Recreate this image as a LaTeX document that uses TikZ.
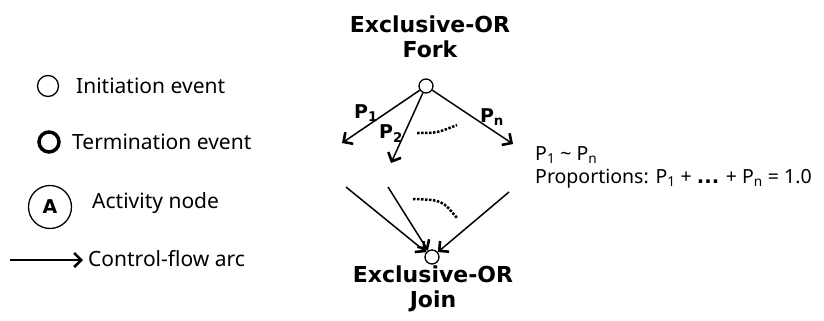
\documentclass[tikz,border=0pt]{standalone}
\usepackage{fontspec}
\setmainfont{Noto Sans}[BoldFont=DejaVu Sans Bold]
\usetikzlibrary{arrows.meta,positioning}

\tikzset{
  event/.style={circle, draw, line width=1.3pt, minimum size=14pt, inner sep=0pt},
  initevent/.style={circle, draw, line width=1.3pt, minimum size=21pt, inner sep=0pt},
  termevent/.style={circle, draw, line width=3.5pt, minimum size=20pt, inner sep=0pt},
  activity/.style={circle, draw, line width=1.3pt, minimum size=43pt, inner sep=0pt,
    font=\fontsize{19}{22}\selectfont\bfseries},
  flow/.style={line width=1.5pt, -{Straight Barb[length=7pt,width=14pt,line width=2.6pt]}},
  more/.style={line width=2.5pt, dash pattern=on 2.5pt off 1.5pt},
  legendtext/.style={anchor=base west, inner sep=0pt, font=\fontsize{21}{25}\selectfont},
  title/.style={anchor=north, align=center, inner sep=0pt,
    font=\fontsize{22}{25}\selectfont\bfseries},
  prob/.style={inner sep=0pt, font=\fontsize{19}{22}\selectfont\bfseries},
  note/.style={anchor=base west, inner sep=0pt, font=\fontsize{19.5}{22}\selectfont}
}

\begin{document}
\begin{tikzpicture}[x=1pt, y=-1pt]
  \useasboundingbox (0,0) rectangle (824,321);

  % Legend
  \node[initevent] (init) at (48,86) {};
  \node[legendtext] (inittext) at (76,93) {Initiation event};
  \node[termevent] (term) at (49,142) {};
  \node[legendtext] (termtext) at (72,149) {Termination event};
  \node[activity] (act) at (50,207) {A};
  \node[legendtext] (acttext) at (92,208) {Activity node};
  \coordinate (arcstart) at (10,260);
  \coordinate (arcend) at (83,260);
  \draw[flow] (arcstart) -- (arcend);
  \node[legendtext] (arctext) at (88,266) {Control-flow arc};

  % Exclusive-OR fork
  \node[title] (forktitle) at (430,16) {Exclusive-OR\\Fork};
  \node[event] (fork) at (426,86) {};
  \coordinate (out1) at (342,143);
  \coordinate (out2) at (391,163);
  \coordinate (outn) at (513,144);
  \draw[flow] (fork) -- (out1);
  \draw[flow] (fork) -- (out2);
  \draw[flow] (fork) -- (outn);
  \node[prob] (p1) at (366,113) {P\textsubscript{1}};
  \node[prob] (p2) at (391,134) {P\textsubscript{2}};
  \node[prob] (pn) at (492,117) {P\textsubscript{n}};
  \draw[more] (417,133) .. controls (437,133) .. (457,125);

  % Exclusive-OR join
  \node[event] (join) at (432,257) {};
  \coordinate (in1) at (346,187);
  \coordinate (in2) at (388,187);
  \coordinate (inn) at (509,192);
  \draw[flow] (in1) -- (join);
  \draw[flow] (in2) -- (join);
  \draw[flow] (inn) -- (join);
  \draw[more] (413,199) .. controls (442,200) .. (457,218);
  \node[title] (jointitle) at (433,266) {Exclusive-OR\\Join};

  % Proportions
  \node[note] (range) at (535,160) {P\textsubscript{1} \textasciitilde{} P\textsubscript{n}};
  \node[note] (sum) at (535,183) {Proportions: P\textsubscript{1} + \textbf{...} + P\textsubscript{n} = 1.0};
\end{tikzpicture}
\end{document}
